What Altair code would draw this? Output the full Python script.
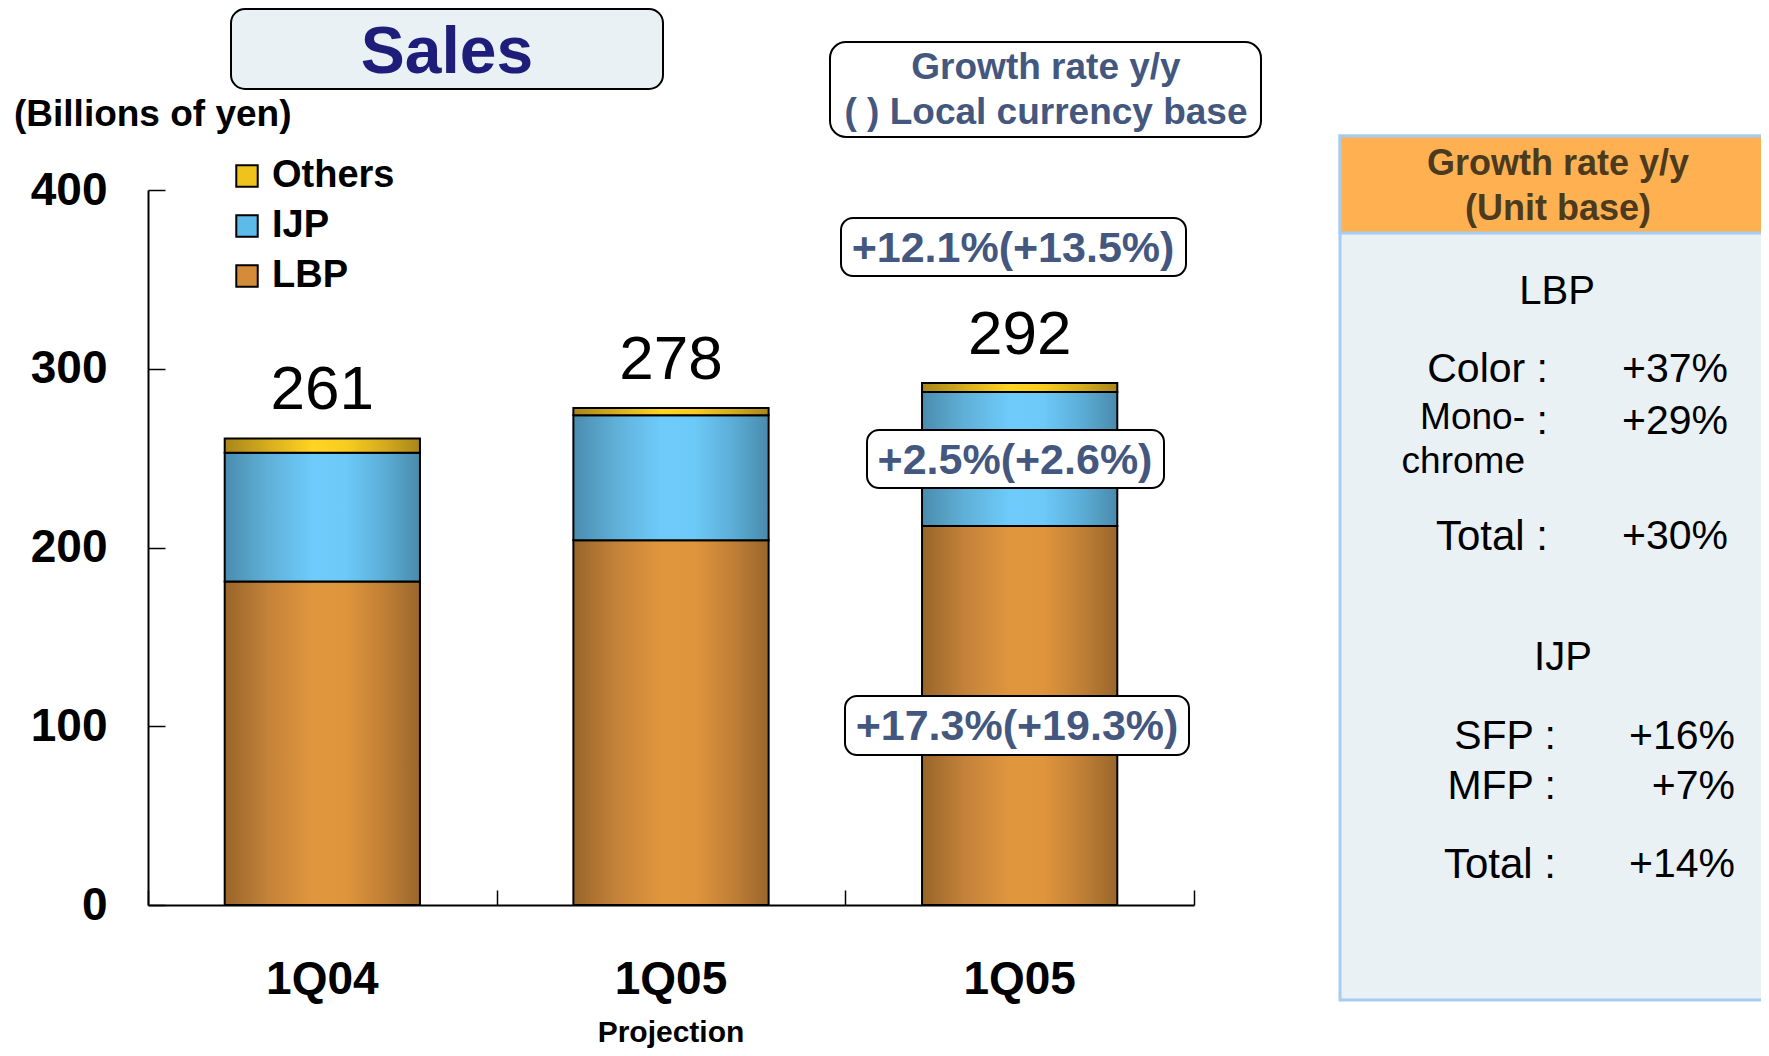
import altair as alt
import pandas as pd

# ---------------- data ----------------
categories = ["1Q04", "1Q05 (Projection)", "1Q05"]
series = ["LBP", "IJP", "Others"]
lbp = [181, 204, 212]
ijp = [72, 70, 75]
others = [8, 4, 5]
totals = [261, 278, 292]
y_ticks = [0, 100, 200, 300, 400]
growth_total = "+12.1%(+13.5%)"
growth_ijp = "+2.5%(+2.6%)"
growth_lbp = "+17.3%(+19.3%)"

rows = []
for i, c in enumerate(categories):
    base = 0
    for s, vals in zip(series, [lbp, ijp, others]):
        rows.append(dict(cat=c, series=s, base=base, top=base + vals[i]))
        base += vals[i]
df = pd.DataFrame(rows)
tot_df = pd.DataFrame(dict(cat=categories, total=totals))
proj_df = pd.DataFrame(dict(cat=[categories[1]], label=["Projection"]))
one = pd.DataFrame({"k": [0]})

FONT = "Liberation Sans, Arial, Helvetica, sans-serif"
W, H = 1046, 715

xscale = alt.Scale(domain=categories, paddingInner=0, paddingOuter=0)
yscale = alt.Scale(domain=[0, 400], nice=False)


def grad(stops):
    return alt.LinearGradient(
        gradient="linear", x1=0, y1=0, x2=1, y2=0,
        stops=[alt.GradientStop(offset=o, color=c) for o, c in stops])


fills = {
    "LBP": grad([(0, "#98652a"), (0.22, "#c4823a"), (0.45, "#e0963d"),
                 (0.62, "#df953c"), (0.82, "#c07f36"), (1, "#99662b")]),
    "IJP": grad([(0, "#4a8cae"), (0.22, "#60b0d8"), (0.45, "#6ecbfb"),
                 (0.62, "#6dc9f8"), (0.82, "#5badd6"), (1, "#4a8aac")]),
    "Others": grad([(0, "#a8861a"), (0.25, "#dcb21e"), (0.45, "#ffd422"),
                    (0.62, "#f8cd20"), (0.82, "#d4ab1d"), (1, "#a8861a")]),
}


def bar_layer(s, main=False):
    if main:
        x_axis = alt.Axis(orient="bottom", title=None, labelExpr="split(datum.label, ' ')[0]",
                          labelFont=FONT, labelFontSize=46, labelFontWeight="bold",
                          labelColor="black", labelPadding=52, labelAngle=0,
                          ticks=False, tickSize=0, domainColor="black", domainWidth=2,
                          grid=False)
        y_axis = alt.Axis(orient="left", title=None, values=y_ticks, labelFont=FONT,
                          labelFontSize=46, labelFontWeight="bold", labelColor="black",
                          labelPadding=41, ticks=False, tickSize=0, domainColor="black",
                          domainWidth=2, grid=False)
    else:
        x_axis = None
        y_axis = None
    return alt.Chart(df).transform_filter(alt.datum.series == s).mark_bar(
        fill=fills[s], stroke="black", strokeWidth=2, width=alt.RelativeBandSize(0.56)
    ).encode(
        x=alt.X("cat:N", scale=xscale, axis=x_axis),
        y=alt.Y("base:Q", scale=yscale, axis=y_axis),
        y2="top:Q",
    )


# invisible layer: carries the legend and the inward tick marks
helper = alt.Chart(df).mark_square(opacity=0).encode(
    x=alt.X("cat:N", scale=xscale,
            axis=alt.Axis(orient="bottom", offset=-15, tickBand="extent", tickSize=15,
                          tickWidth=1.5, tickColor="black", labels=False, domain=False,
                          grid=False, title=None)),
    y=alt.Y("top:Q", scale=yscale,
            axis=alt.Axis(orient="left", offset=-17, tickSize=17, tickWidth=1.5,
                          tickColor="black", values=y_ticks, labels=False, domain=False,
                          grid=False, title=None)),
    color=alt.Color("series:N",
                    scale=alt.Scale(domain=["Others", "IJP", "LBP"],
                                    range=["#f0c21c", "#5cbbe8", "#d48c3a"]),
                    legend=alt.Legend(orient="none", legendX=80, legendY=-33, title=None,
                                      symbolType="square", symbolSize=460,
                                      symbolStrokeColor="black", symbolStrokeWidth=2,
                                      symbolOpacity=1, labelFont=FONT, labelFontSize=38,
                                      labelFontWeight="bold", labelColor="black",
                                      labelOffset=6, rowPadding=12, padding=0)),
)

totals_text = alt.Chart(tot_df).mark_text(
    font=FONT, fontSize=62, color="black", baseline="alphabetic", dy=-29
).encode(
    x=alt.X("cat:N", scale=xscale, axis=None),
    y=alt.Y("total:Q", scale=yscale, axis=None),
    text="total:Q",
)

proj_text = alt.Chart(proj_df).mark_text(
    font=FONT, fontSize=30, fontWeight="bold", color="black", baseline="middle"
).encode(
    x=alt.X("cat:N", scale=xscale, axis=None),
    y=alt.value(843),
    text="label:N",
)


def box(x1, x2, y1, y2, fill, stroke, r, sw=2):
    return alt.Chart(one).mark_rect(
        fill=fill, stroke=stroke, strokeWidth=sw, cornerRadius=r
    ).encode(x=alt.value(x1), x2=alt.value(x2), y=alt.value(y1), y2=alt.value(y2))


def txt(t, x, y, size, color="black", weight="normal", align="center"):
    return alt.Chart(one).mark_text(
        text=t, font=FONT, fontSize=size, fontWeight=weight, color=color,
        align=align, baseline="middle"
    ).encode(x=alt.value(x), y=alt.value(y))


NAVY = "#1e1e7a"
SLATE = "#44577f"
BROWN = "#4b3a1e"

decor_back = [
    # title box
    box(83, 515, -181, -101, "#e9f1f5", "black", 14),
    txt("Sales", 299, -137, 66, NAVY, "bold"),
    txt("(Billions of yen)", -134, -75, 37, "black", "bold", "left"),
    # growth header box
    box(682, 1113, -148, -53, "white", "black", 16),
    txt("Growth rate y/y", 898, -122, 37, SLATE, "bold"),
    txt("( ) Local currency base", 898, -77, 37, SLATE, "bold"),
    # right panel
    box(1192, 1640, -54, 810, "#e9f1f5", "#a6cdf0", 0, 3),
    box(1192, 1640, -54, 43, "#ffb152", "#a6cdf0", 0, 3),
    txt("Growth rate y/y", 1410, -26, 36, BROWN, "bold"),
    txt("(Unit base)", 1410, 19, 36, BROWN, "bold"),
    txt("LBP", 1409, 102, 40),
    txt("Color :", 1400, 180, 41, align="right"),
    txt("+37%", 1580, 180, 41, align="right"),
    txt("Mono-", 1377, 228, 37, align="right"),
    txt(":", 1400, 232, 41, align="right"),
    txt("+29%", 1580, 232, 41, align="right"),
    txt("chrome", 1377, 272, 37, align="right"),
    txt("Total :", 1400, 347, 42, align="right"),
    txt("+30%", 1580, 347, 41, align="right"),
    txt("IJP", 1415, 468, 40),
    txt("SFP :", 1408, 547, 41, align="right"),
    txt("+16%", 1587, 547, 41, align="right"),
    txt("MFP :", 1408, 597, 41, align="right"),
    txt("+7%", 1587, 597, 41, align="right"),
    txt("Total :", 1408, 675, 42, align="right"),
    txt("+14%", 1587, 675, 41, align="right"),
]

decor_front = [
    box(693, 1038, 28, 86, "white", "black", 12),
    txt(growth_total, 865, 59, 43, SLATE, "bold"),
    box(719, 1016, 240, 298, "white", "black", 12),
    txt(growth_ijp, 867, 271, 43, SLATE, "bold"),
    box(697, 1041, 506, 565, "white", "black", 12),
    txt(growth_lbp, 869, 537, 43, SLATE, "bold"),
]

layers = decor_back + [
    bar_layer("LBP", main=True), bar_layer("IJP"), bar_layer("Others"),
    helper, totals_text, proj_text,
] + decor_front

chart = alt.layer(*layers).properties(
    width=W, height=H,
    autosize=alt.AutoSizeParams(type="none"),
    padding={"left": 140, "top": 182, "right": 567, "bottom": 143},
    background="white",
).resolve_axis(x="independent", y="independent").configure_view(stroke=None)

chart.save("out.html", embed_options={"renderer": "svg", "actions": False})
